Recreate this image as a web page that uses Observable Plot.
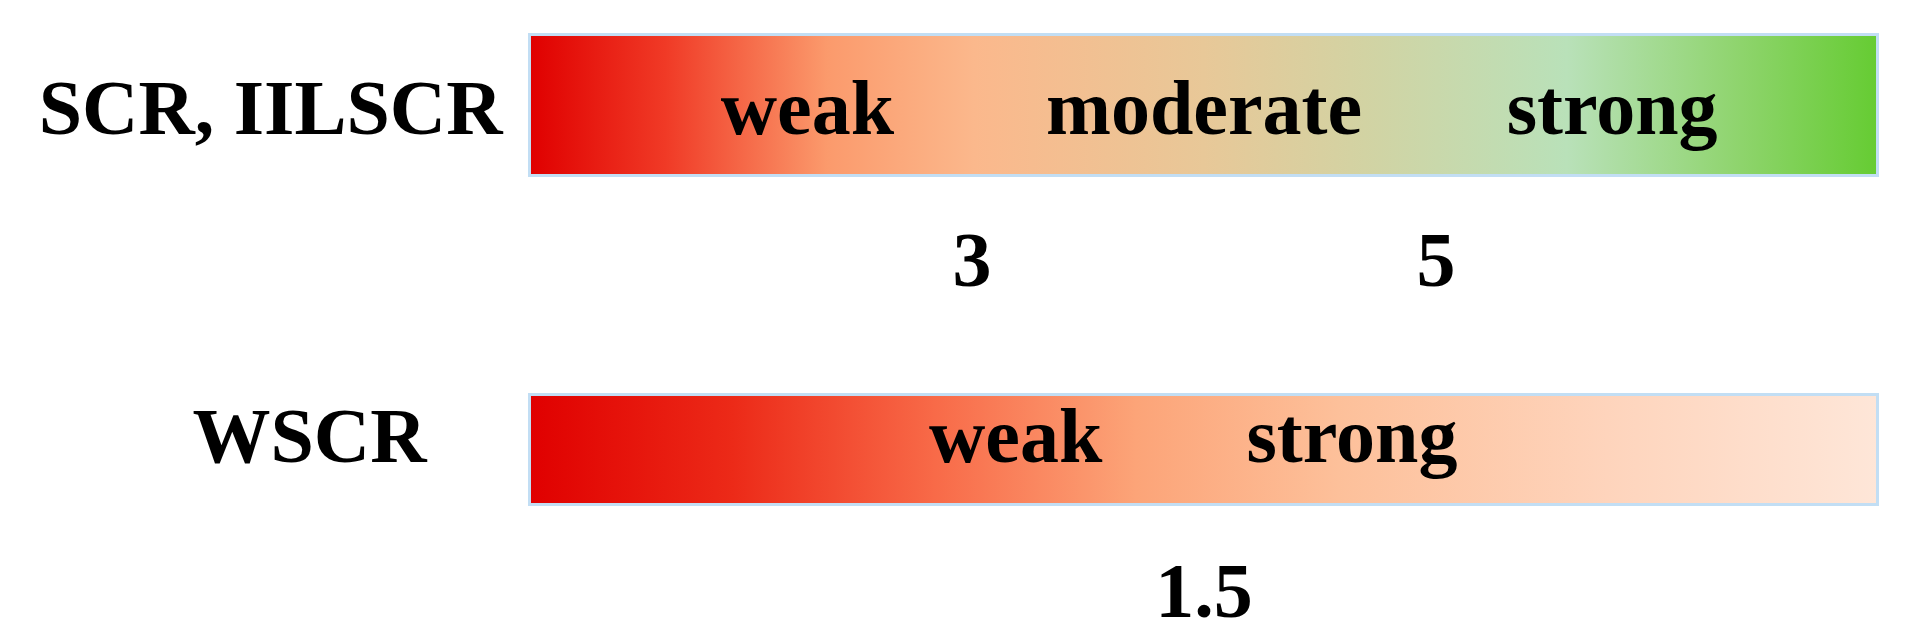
<!DOCTYPE html>
<html>
<head>
<meta charset="utf-8">
<script src="https://cdn.jsdelivr.net/npm/d3@7"></script>
<script src="https://cdn.jsdelivr.net/npm/@observablehq/plot@0.6"></script>
<style>
  html, body { margin: 0; padding: 0; background: #ffffff; }
  #chart svg { display: block; }
</style>
</head>
<body>
<div id="chart"></div>
<script>
// ---- data ----
const rowLabels = ["SCR, IILSCR", "WSCR"];

// top bar (SCR / IILSCR): value extent of the bar, thresholds, zone words
const scrExtent = [1.1, 6.9];
const scrThresholds = [3, 5];
const scrWords = ["weak", "moderate", "strong"];
const scrWordPos = [2.29, 4.0, 5.76];
const scrStopOffsets = [0, 0.1, 0.22, 0.33, 0.5, 0.62, 0.77, 0.9, 1];
const scrStopColors = ["#e00000", "#f03a26", "#fb9a6c", "#fbb88c", "#e8c898", "#d2d3a3", "#b9e1b9", "#8ed46c", "#66cc33"];

// bottom bar (WSCR)
const wscrExtent = [1.0, 2.0];
const wscrThresholds = [1.5];
const wscrWords = ["weak", "strong"];
const wscrWordPos = [1.36, 1.61];
const wscrStopOffsets = [0, 0.15, 0.3, 0.45, 0.6, 0.8, 1];
const wscrStopColors = ["#e00000", "#ec2a18", "#f86a48", "#fca478", "#fdc09a", "#fed4bc", "#fee6d8"];

const FONT = "Liberation Serif, Times New Roman, serif";
const borderColor = "#c2def4";

function gradientDefs(id, offsets, colors) {
  return () => {
    const defs = d3.create("svg:defs");
    const g = defs.append("linearGradient").attr("id", id)
      .attr("x1", "0%").attr("x2", "100%").attr("y1", "0%").attr("y2", "0%");
    offsets.forEach((o, i) => g.append("stop").attr("offset", o).attr("stop-color", colors[i]));
    return defs.node();
  };
}

function makeBar({label, extent, thresholds, tickLabels, words, wordPos, gradId, offsets, colors,
                  marginTop, marginBottom, labelPadding, labelDy, tickPadding}) {
  const bar = [{row: label, x1: extent[0], x2: extent[1]}];
  const wordData = words.map((w, i) => ({row: label, word: w, x: wordPos[i]}));
  return Plot.plot({
    width: 1911,
    height: 318,
    marginLeft: 531,
    marginRight: 35,
    marginTop,
    marginBottom,
    style: {fontFamily: FONT, background: "#ffffff", color: "#000000"},
    x: {domain: extent},
    y: {domain: [label], padding: 0},
    marks: [
      gradientDefs(gradId, offsets, colors),
      Plot.barX(bar, {x1: "x1", x2: "x2", y: "row", fill: "none", stroke: borderColor, strokeWidth: 6}),
      Plot.barX(bar, {x1: "x1", x2: "x2", y: "row", fill: `url(#${gradId})`}),
      Plot.text(wordData, {x: "x", y: "row", text: "word", fontSize: 78, fontWeight: "bold",
                           fontFamily: FONT, fill: "#000", dy: labelDy}),
      Plot.axisY({tickSize: 0, tickPadding: labelPadding, fontSize: 78, fontWeight: "bold",
                  fontFamily: FONT, dy: labelDy, label: null}),
      Plot.axisX({ticks: thresholds, tickFormat: (d, i) => tickLabels[i], tickSize: 0,
                  tickPadding, fontSize: 78, fontWeight: "bold", fontFamily: FONT, label: null})
    ]
  });
}

const topChart = makeBar({
  label: rowLabels[0], extent: scrExtent, thresholds: scrThresholds,
  tickLabels: scrThresholds.map(String), words: scrWords, wordPos: scrWordPos,
  gradId: "gradSCR", offsets: scrStopOffsets, colors: scrStopColors,
  marginTop: 36, marginBottom: 144, labelPadding: 29, labelDy: 4, tickPadding: 56
});
const bottomChart = makeBar({
  label: rowLabels[1], extent: wscrExtent, thresholds: wscrThresholds,
  tickLabels: wscrThresholds.map(String), words: wscrWords, wordPos: wscrWordPos,
  gradId: "gradWSCR", offsets: wscrStopOffsets, colors: wscrStopColors,
  marginTop: 78, marginBottom: 133, labelPadding: 105, labelDy: -13, tickPadding: 58
});
document.getElementById("chart").append(topChart, bottomChart);
</script>
</body>
</html>
